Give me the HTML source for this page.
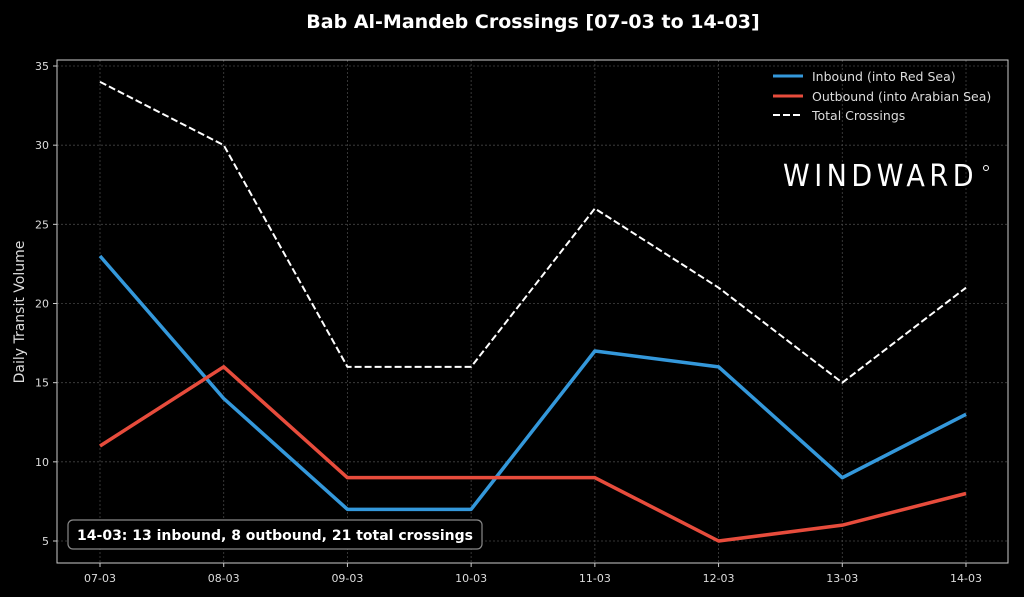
<!DOCTYPE html>
<html><head><meta charset="utf-8"><style>
html,body{margin:0;padding:0;background:#000;}
svg{display:block;font-family:"DejaVu Sans","Liberation Sans",sans-serif;}
</style></head><body>
<svg id="chart" width="1024" height="597" viewBox="0 0 1024 597">
<rect width="1024" height="597" fill="#000"/>
<text x="533" y="28" text-anchor="middle" fill="#fff" font-size="19" font-weight="bold">Bab Al-Mandeb Crossings [07-03 to 14-03]</text>
<text transform="translate(24,312) rotate(-90)" text-anchor="middle" fill="#ddd" font-size="14">Daily Transit Volume</text>
<g id="grid"></g><g id="ticks"></g><g id="series"></g>
<rect x="57" y="60" width="951" height="503" fill="none" stroke="#ccc" stroke-width="1"/>
<g>
<line x1="773" y1="76" x2="803" y2="76" stroke="#3498db" stroke-width="3"/>
<text x="812" y="81" fill="#ddd" font-size="12.5">Inbound (into Red Sea)</text>
<line x1="773" y1="96" x2="803" y2="96" stroke="#e74c3c" stroke-width="3"/>
<text x="812" y="101" fill="#ddd" font-size="12.5">Outbound (into Arabian Sea)</text>
<line x1="773" y1="115" x2="803" y2="115" stroke="#fff" stroke-width="2" stroke-dasharray="7,3"/>
<text x="812" y="120" fill="#ddd" font-size="12.5">Total Crossings</text>
</g>
<text x="783" y="186" fill="#fff" font-size="30" font-family="'DejaVu Sans',sans-serif" font-weight="normal" letter-spacing="5" textLength="195" lengthAdjust="spacingAndGlyphs">WINDWARD</text>
<circle cx="986" cy="168" r="2.5" fill="none" stroke="#fff" stroke-width="1"/>
<rect x="68" y="520" width="414" height="29" rx="5" fill="#000" stroke="#888" stroke-width="1.2"/>
<text x="275" y="540" text-anchor="middle" fill="#fff" font-size="14" font-weight="bold">14-03: 13 inbound, 8 outbound, 21 total crossings</text>
</svg>
<script>
const categories=["07-03","08-03","09-03","10-03","11-03","12-03","13-03","14-03"];
const inbound=[23,14,7,7,17,16,9,13];
const outbound=[11,16,9,9,9,5,6,8];
const total=[34,30,16,16,26,21,15,21];
const yTicks=[5,10,15,20,25,30,35];
const NS="http://www.w3.org/2000/svg";
const x=i=>100+i*(966-100)/(categories.length-1);
const y=v=>541-(v-5)*(475/30);
function mk(t,a,p){const e=document.createElementNS(NS,t);for(const k in a)e.setAttribute(k,a[k]);p.appendChild(e);return e;}
const grid=document.getElementById('grid'),ticks=document.getElementById('ticks'),ser=document.getElementById('series');
yTicks.forEach(v=>{
 const g=mk('line',{x1:57,x2:1008,y1:y(v),y2:y(v),stroke:'#444','stroke-width':0.8,'stroke-dasharray':'2,2'},grid);
 
 
 mk('line',{x1:53,x2:57,y1:y(v),y2:y(v),stroke:'#ccc'},ticks);
 const t=mk('text',{x:49,y:y(v)+4,'text-anchor':'end',fill:'#ddd','font-size':11},ticks);t.textContent=v;
 
 
});
categories.forEach((c,i)=>{
 const g=mk('line',{x1:x(i),x2:x(i),y1:60,y2:563,stroke:'#444','stroke-width':0.8,'stroke-dasharray':'2,2'},grid);
 
 
 mk('line',{x1:x(i),x2:x(i),y1:563,y2:567,stroke:'#ccc'},ticks);
 const t=mk('text',{x:x(i),y:582,'text-anchor':'middle',fill:'#ddd','font-size':11},ticks);t.textContent=c;
 
 
});
function line(d,col,w,dash,name){
 const p=mk('polyline',{points:d.map((v,i)=>x(i)+','+y(v)).join(' '),fill:'none',stroke:col,'stroke-width':w,'stroke-linejoin':'round'},ser);
 if(dash)p.setAttribute('stroke-dasharray',dash);
 
 
}
line(total,'#fff',2,'7,3','total-line');
line(inbound,'#3498db',3.5,null,'inbound-line');
line(outbound,'#e74c3c',3.5,null,'outbound-line');
</script>
</body></html>
